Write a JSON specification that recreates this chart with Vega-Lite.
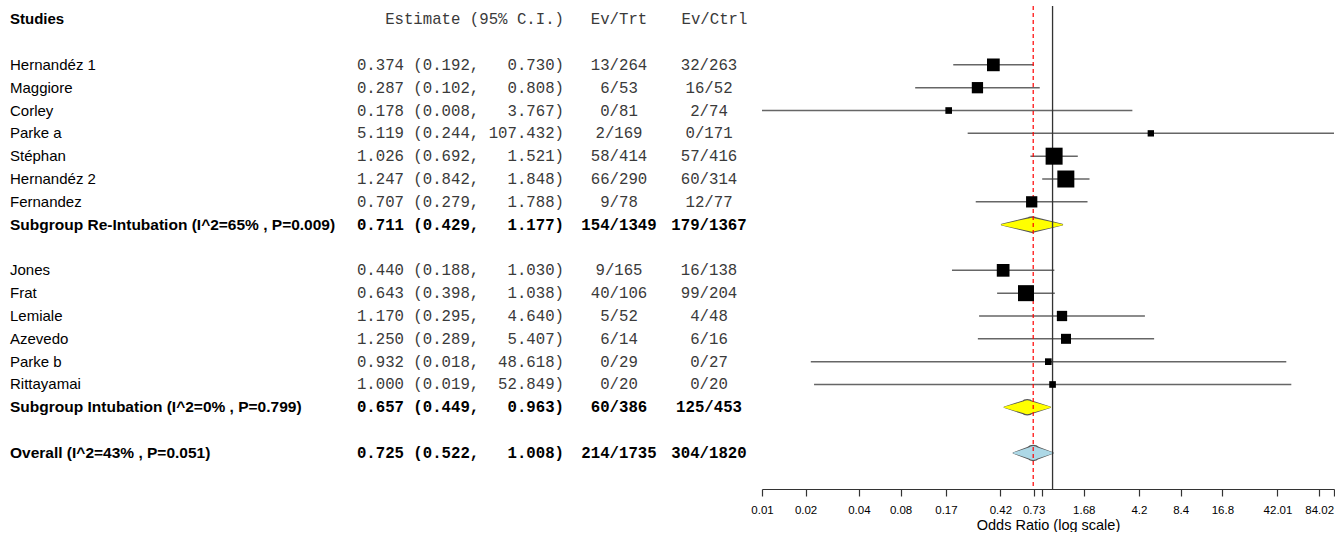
{
  "$schema": "https://vega.github.io/schema/vega-lite/v6.json",
  "padding": {"left": 10, "top": 5, "right": 0, "bottom": 0},
  "background": "white",
  "bounds": "flush",
  "spacing": 0,
  "config": {"view": {"stroke": null}},
  "data": {"values": [
    {"kind": "study", "label": "Hernandéz 1", "est": 0.374, "lo": 0.192, "hi": 0.730, "trt": "13/264", "ctrl": "32/263", "weight": 8.4},
    {"kind": "study", "label": "Maggiore", "est": 0.287, "lo": 0.102, "hi": 0.808, "trt": "6/53", "ctrl": "16/52", "weight": 6.6},
    {"kind": "study", "label": "Corley", "est": 0.178, "lo": 0.008, "hi": 3.767, "trt": "0/81", "ctrl": "2/74", "weight": 2.3},
    {"kind": "study", "label": "Parke a", "est": 5.119, "lo": 0.244, "hi": 107.432, "trt": "2/169", "ctrl": "0/171", "weight": 2.1},
    {"kind": "study", "label": "Stéphan", "est": 1.026, "lo": 0.692, "hi": 1.521, "trt": "58/414", "ctrl": "57/416", "weight": 15.0},
    {"kind": "study", "label": "Hernandéz 2", "est": 1.247, "lo": 0.842, "hi": 1.848, "trt": "66/290", "ctrl": "60/314", "weight": 15.0},
    {"kind": "study", "label": "Fernandez", "est": 0.707, "lo": 0.279, "hi": 1.788, "trt": "9/78", "ctrl": "12/77", "weight": 6.6},
    {"kind": "subgroup", "label": "Subgroup Re-Intubation (I^2=65% , P=0.009)", "est": 0.711, "lo": 0.429, "hi": 1.177, "trt": "154/1349", "ctrl": "179/1367"},
    {"kind": "study", "label": "Jones", "est": 0.440, "lo": 0.188, "hi": 1.030, "trt": "9/165", "ctrl": "16/138", "weight": 8.4},
    {"kind": "study", "label": "Frat", "est": 0.643, "lo": 0.398, "hi": 1.038, "trt": "40/106", "ctrl": "99/204", "weight": 13.3},
    {"kind": "study", "label": "Lemiale", "est": 1.170, "lo": 0.295, "hi": 4.640, "trt": "5/52", "ctrl": "4/48", "weight": 5.5},
    {"kind": "study", "label": "Azevedo", "est": 1.250, "lo": 0.289, "hi": 5.407, "trt": "6/14", "ctrl": "6/16", "weight": 5.2},
    {"kind": "study", "label": "Parke b", "est": 0.932, "lo": 0.018, "hi": 48.618, "trt": "0/29", "ctrl": "0/27", "weight": 2.3},
    {"kind": "study", "label": "Rittayamai", "est": 1.000, "lo": 0.019, "hi": 52.849, "trt": "0/20", "ctrl": "0/20", "weight": 2.3},
    {"kind": "subgroup", "label": "Subgroup Intubation (I^2=0% , P=0.799)", "est": 0.657, "lo": 0.449, "hi": 0.963, "trt": "60/386", "ctrl": "125/453"},
    {"kind": "overall", "label": "Overall (I^2=43% , P=0.051)", "est": 0.725, "lo": 0.522, "hi": 1.008, "trt": "214/1735", "ctrl": "304/1820"}
  ]},
  "hconcat": [
    {
      "width": 335, "height": 483,
      "encoding": {
        "x": {"datum": 0, "type": "quantitative", "scale": {"domain": [0, 1]}, "axis": null},
        "y": {"field": "label", "type": "nominal", "scale": {"type": "point", "padding": 0.578, "domain": ["hdr","g0","Hernandéz 1","Maggiore","Corley","Parke a","Stéphan","Hernandéz 2","Fernandez","Subgroup Re-Intubation (I^2=65% , P=0.009)","g1","Jones","Frat","Lemiale","Azevedo","Parke b","Rittayamai","Subgroup Intubation (I^2=0% , P=0.799)","g2","Overall (I^2=43% , P=0.051)","g3"]}, "axis": null}
      },
      "layer": [
        {"data": {"values": [{}]},
         "mark": {"type": "text", "align": "left", "baseline": "middle", "dy": 0, "font": "Liberation Sans", "fontSize": 15, "fontWeight": "bold", "color": "#000", "text": "Studies"},
         "encoding": {"y": {"datum": "hdr", "type": "nominal"}}},
        {"transform": [{"filter": "datum.kind === 'study'"}],
         "mark": {"type": "text", "align": "left", "baseline": "middle", "dy": 0, "font": "Liberation Sans", "fontSize": 15, "color": "#000"},
         "encoding": {"text": {"field": "label"}}},
        {"transform": [{"filter": "datum.kind !== 'study'"}],
         "mark": {"type": "text", "align": "left", "baseline": "middle", "dy": 0, "font": "Liberation Sans", "fontSize": 15.5, "fontWeight": "bold", "color": "#000"},
         "encoding": {"text": {"field": "label"}}}
      ]
    },
    {
      "width": 219, "height": 483,
      "encoding": {
        "x": {"datum": 1, "type": "quantitative", "scale": {"domain": [0, 1]}, "axis": null},
        "y": {"field": "label", "type": "nominal", "scale": {"type": "point", "padding": 0.578, "domain": ["hdr","g0","Hernandéz 1","Maggiore","Corley","Parke a","Stéphan","Hernandéz 2","Fernandez","Subgroup Re-Intubation (I^2=65% , P=0.009)","g1","Jones","Frat","Lemiale","Azevedo","Parke b","Rittayamai","Subgroup Intubation (I^2=0% , P=0.799)","g2","Overall (I^2=43% , P=0.051)","g3"]}, "axis": null}
      },
      "layer": [
        {"data": {"values": [{}]},
         "mark": {"type": "text", "align": "right", "baseline": "middle", "dy": 0, "font": "Liberation Mono", "fontSize": 15.7, "color": "#3a3a3a", "text": "Estimate (95% C.I.)"},
         "encoding": {"y": {"datum": "hdr", "type": "nominal"}}},
        {"transform": [{"filter": "datum.kind === 'study'"}],
         "mark": {"type": "text", "align": "right", "baseline": "middle", "dy": 0, "font": "Liberation Mono", "fontSize": 15.7, "color": "#3a3a3a",
                  "text": {"expr": "format(datum.est, '.3f') + ' (' + format(datum.lo, '.3f') + ',' + pad(format(datum.hi, '.3f'), 8, '\u00a0', 'left') + ')'"}}},
        {"transform": [{"filter": "datum.kind !== 'study'"}],
         "mark": {"type": "text", "align": "right", "baseline": "middle", "dy": 0, "font": "Liberation Mono", "fontSize": 15.7, "fontWeight": "bold", "color": "#000",
                  "text": {"expr": "format(datum.est, '.3f') + ' (' + format(datum.lo, '.3f') + ',' + pad(format(datum.hi, '.3f'), 8, '\u00a0', 'left') + ')'"}}}
      ]
    },
    {
      "width": 110, "height": 483,
      "encoding": {
        "x": {"datum": 0.5, "type": "quantitative", "scale": {"domain": [0, 1]}, "axis": null},
        "y": {"field": "label", "type": "nominal", "scale": {"type": "point", "padding": 0.578, "domain": ["hdr","g0","Hernandéz 1","Maggiore","Corley","Parke a","Stéphan","Hernandéz 2","Fernandez","Subgroup Re-Intubation (I^2=65% , P=0.009)","g1","Jones","Frat","Lemiale","Azevedo","Parke b","Rittayamai","Subgroup Intubation (I^2=0% , P=0.799)","g2","Overall (I^2=43% , P=0.051)","g3"]}, "axis": null}
      },
      "layer": [
        {"data": {"values": [{}]},
         "mark": {"type": "text", "align": "center", "baseline": "middle", "dy": 0, "font": "Liberation Mono", "fontSize": 15.7, "color": "#3a3a3a", "text": "Ev/Trt"},
         "encoding": {"y": {"datum": "hdr", "type": "nominal"}}},
        {"transform": [{"filter": "datum.kind === 'study'"}],
         "mark": {"type": "text", "align": "center", "baseline": "middle", "dy": 0, "font": "Liberation Mono", "fontSize": 15.7, "color": "#3a3a3a"},
         "encoding": {"text": {"field": "trt"}}},
        {"transform": [{"filter": "datum.kind !== 'study'"}],
         "mark": {"type": "text", "align": "center", "baseline": "middle", "dy": 0, "font": "Liberation Mono", "fontSize": 15.7, "fontWeight": "bold", "color": "#000"},
         "encoding": {"text": {"field": "trt"}}}
      ]
    },
    {
      "width": 88, "height": 483,
      "encoding": {
        "x": {"datum": 0.398, "type": "quantitative", "scale": {"domain": [0, 1]}, "axis": null},
        "y": {"field": "label", "type": "nominal", "scale": {"type": "point", "padding": 0.578, "domain": ["hdr","g0","Hernandéz 1","Maggiore","Corley","Parke a","Stéphan","Hernandéz 2","Fernandez","Subgroup Re-Intubation (I^2=65% , P=0.009)","g1","Jones","Frat","Lemiale","Azevedo","Parke b","Rittayamai","Subgroup Intubation (I^2=0% , P=0.799)","g2","Overall (I^2=43% , P=0.051)","g3"]}, "axis": null}
      },
      "layer": [
        {"data": {"values": [{}]},
         "mark": {"type": "text", "align": "center", "baseline": "middle", "dy": 0, "font": "Liberation Mono", "fontSize": 15.7, "color": "#3a3a3a", "text": "Ev/Ctrl"},
         "encoding": {"x": {"datum": 0.46, "type": "quantitative"}, "y": {"datum": "hdr", "type": "nominal"}}},
        {"transform": [{"filter": "datum.kind === 'study'"}],
         "mark": {"type": "text", "align": "center", "baseline": "middle", "dy": 0, "font": "Liberation Mono", "fontSize": 15.7, "color": "#3a3a3a"},
         "encoding": {"text": {"field": "ctrl"}}},
        {"transform": [{"filter": "datum.kind !== 'study'"}],
         "mark": {"type": "text", "align": "center", "baseline": "middle", "dy": 0, "font": "Liberation Mono", "fontSize": 15.7, "fontWeight": "bold", "color": "#000"},
         "encoding": {"text": {"field": "ctrl"}}}
      ]
    },
    {
      "width": 572, "height": 483,
      "layer": [
        {"transform": [{"filter": "datum.kind === 'study'"}],
         "mark": {"type": "rule", "color": "#666", "strokeWidth": 1.5},
         "encoding": {
           "x": {"field": "lo", "type": "quantitative",
                 "scale": {"type": "log", "domain": [0.008, 107.432], "nice": false},
                 "axis": {"title": "Odds Ratio (log scale)", "grid": false,
                          "values": [0.008, 0.0165, 0.04, 0.08, 0.17, 0.42, 0.73, 0.837, 1.68, 4.2, 8.4, 16.8, 42.01, 84.02, 107.432],
                          "labelExpr": "datum.value < 0.01 ? '0.01' : datum.value < 0.02 ? '0.02' : ((datum.value > 0.8 && datum.value < 0.9) || datum.value > 100) ? '' : toString(datum.value)",
                          "labelOverlap": false, "labelFlush": false,
                          "domainColor": "#333", "domainWidth": 1.2, "tickColor": "#333", "tickWidth": 1.2, "tickSize": 7,
                          "labelFont": "Liberation Sans", "labelFontSize": 11.5, "labelColor": "#000", "labelPadding": 8,
                          "titleFont": "Liberation Sans", "titleFontSize": 14.5, "titleFontWeight": "normal", "titleColor": "#000", "titlePadding": 3}},
           "x2": {"field": "hi"},
           "y": {"field": "label", "type": "nominal", "scale": {"type": "point", "padding": 0.578, "domain": ["hdr","g0","Hernandéz 1","Maggiore","Corley","Parke a","Stéphan","Hernandéz 2","Fernandez","Subgroup Re-Intubation (I^2=65% , P=0.009)","g1","Jones","Frat","Lemiale","Azevedo","Parke b","Rittayamai","Subgroup Intubation (I^2=0% , P=0.799)","g2","Overall (I^2=43% , P=0.051)","g3"]}, "axis": null}
         }},
        {"transform": [{"filter": "datum.kind !== 'study'"}, {"fold": ["lo", "est", "hi"], "as": ["key", "value"]}],
         "mark": {"type": "trail", "color": "#555"},
         "encoding": {
           "x": {"field": "value", "type": "quantitative"},
           "y": {"field": "label", "type": "nominal"},
           "detail": {"field": "label"},
           "order": {"field": "value", "type": "quantitative"},
           "size": {"condition": {"test": "datum.key === 'est'", "value": 16.6}, "value": 1.6}
         }},
        {"transform": [{"filter": "datum.kind !== 'study'"}, {"fold": ["lo", "est", "hi"], "as": ["key", "value"]}],
         "mark": {"type": "trail"},
         "encoding": {
           "x": {"field": "value", "type": "quantitative"},
           "y": {"field": "label", "type": "nominal"},
           "detail": {"field": "label"},
           "order": {"field": "value", "type": "quantitative"},
           "color": {"field": "kind", "type": "nominal", "scale": {"domain": ["subgroup", "overall"], "range": ["#ffff00", "#add8e6"]}, "legend": null},
           "size": {"condition": {"test": "datum.key === 'est'", "value": 14}, "value": 0}
         }},
        {"data": {"values": [{}]},
         "mark": {"type": "rule", "color": "#ff0000", "strokeWidth": 1.2, "strokeDash": [4, 3]},
         "encoding": {"x": {"datum": 0.725, "type": "quantitative"}}},
        {"data": {"values": [{}]},
         "mark": {"type": "rule", "color": "#333", "strokeWidth": 1.3},
         "encoding": {"x": {"datum": 1, "type": "quantitative"}}},
        {"transform": [{"filter": "datum.kind === 'study'"}],
         "mark": {"type": "point", "shape": "square", "filled": true, "color": "#000", "opacity": 1},
         "encoding": {
           "x": {"field": "est", "type": "quantitative"},
           "y": {"field": "label", "type": "nominal"},
           "size": {"field": "weight", "type": "quantitative", "scale": {"domain": [0, 15], "range": [0, 289]}, "legend": null}
         }}
      ]
    }
  ]
}
